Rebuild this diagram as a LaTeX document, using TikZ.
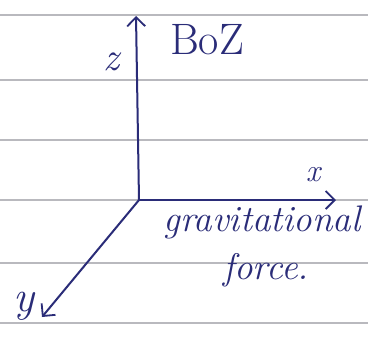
\documentclass[tikz,border=0pt]{standalone}
\usetikzlibrary{arrows.meta}
\definecolor{ink}{RGB}{42,44,120}
\definecolor{rule}{RGB}{185,185,190}
\begin{document}
\begin{tikzpicture}[x=1pt,y=-1pt,
  axis/.style={ink,line width=2pt,-{Straight Barb[length=9pt,width=18pt,line width=1.8pt]}},
  ruleline/.style={rule,line width=1.2pt},
  lbl/.style={ink,font=\itshape\fontsize{37}{39}\selectfont,inner sep=0pt}]
\useasboundingbox (0,0) rectangle (368,343);
\fill[white] (0,0) rectangle (368,343);
\foreach \yy in {15,80,140,200,263,323}
  \draw[ruleline] (0,\yy) -- (368,\yy);
\coordinate (O) at (139,200);
\coordinate (Z) at (136,16);
\coordinate (X) at (336,200);
\coordinate (Y) at (42,317);
\draw[axis] (O) -- (Z);
\draw[axis] (O) -- (X);
\draw[axis] (O) -- (Y);
\node[lbl,font=\itshape\fontsize{40}{42}\selectfont] (zl) at (111,62) {z};
\node[ink,font=\fontsize{44}{46}\selectfont,inner sep=0pt] (boz) at (207,40) {BoZ};
\node[lbl,font=\itshape\fontsize{32}{34}\selectfont] (xl) at (313,175) {x};
\node[lbl] (gl) at (262,222) {gravitational};
\node[lbl] (fl) at (266,270) {force.};
\node[lbl,font=\itshape\fontsize{44}{46}\selectfont] (yl) at (24,306) {y};
\end{tikzpicture}
\end{document}
